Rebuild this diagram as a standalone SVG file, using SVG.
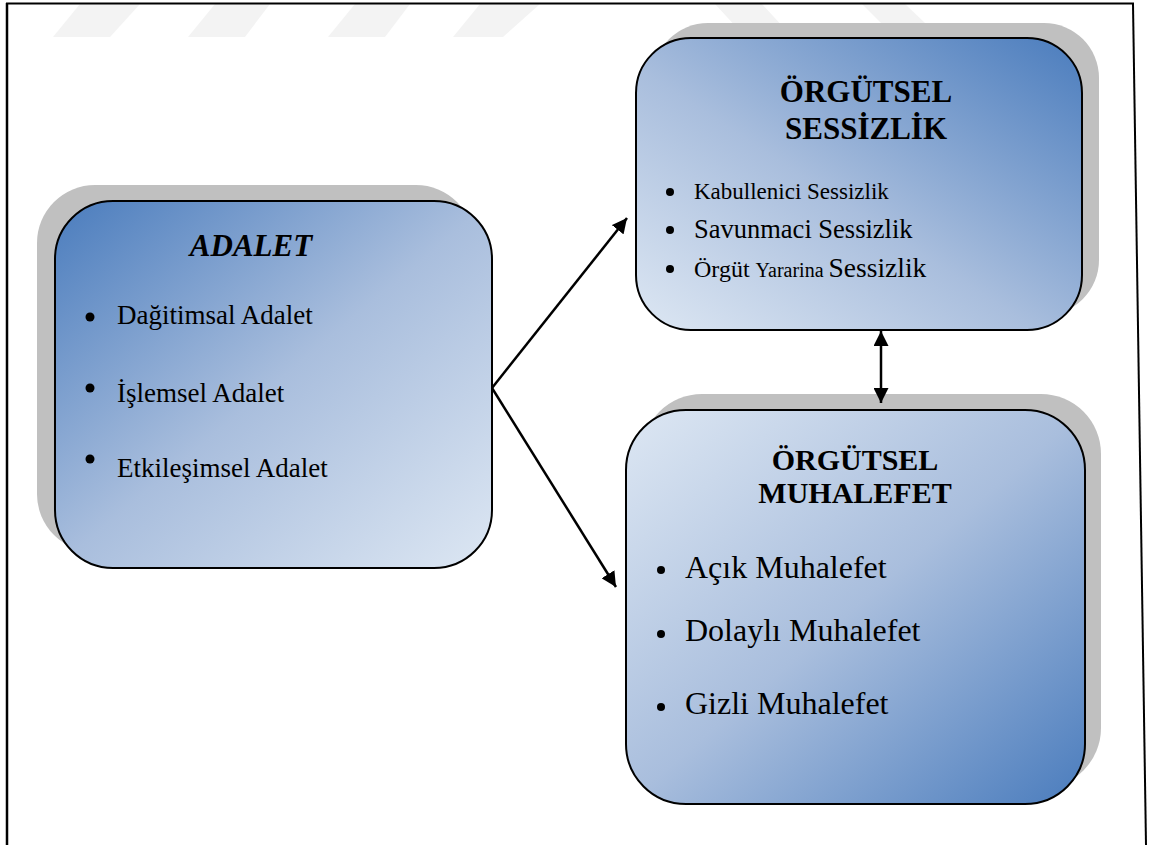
<svg xmlns="http://www.w3.org/2000/svg" width="1149" height="845" viewBox="0 0 1149 845">
<defs>
<linearGradient id="gA" x1="0" y1="0" x2="1" y2="1">
<stop offset="0" stop-color="#4a7cbd"/><stop offset="0.5" stop-color="#a9bedd"/><stop offset="1" stop-color="#dde7f3"/>
</linearGradient>
<linearGradient id="gS" x1="0" y1="1" x2="1" y2="0">
<stop offset="0" stop-color="#dde7f3"/><stop offset="0.45" stop-color="#a9bedd"/><stop offset="1" stop-color="#4a7cbd"/>
</linearGradient>
<linearGradient id="gM" x1="0" y1="0" x2="1" y2="1">
<stop offset="0" stop-color="#dde7f3"/><stop offset="0.5" stop-color="#a9bedd"/><stop offset="1" stop-color="#4a7cbd"/>
</linearGradient>
<marker id="ah" viewBox="0 0 10 10" refX="10" refY="5" markerWidth="6" markerHeight="6" orient="auto-start-reverse" markerUnits="strokeWidth">
<path d="M0,0 L10,5 L0,10 z" fill="#000"/>
</marker>
<style>
.shadow{fill:#c0c0c0}
.box{stroke:#000;stroke-width:2}
.t{font-family:"Liberation Serif","Times New Roman",serif;fill:#000}
.title{font-weight:bold;text-anchor:middle}
.wm{fill:#f3f3f3}
.conn{stroke:#000;stroke-width:2.5;fill:none;marker-end:url(#ah)}
</style>
</defs>
<rect width="1149" height="845" fill="#fff"/>
<g id="watermark">
<polygon class="wm" points="80,4 140,4 110,37 53,37"/>
<polygon class="wm" points="215,4 270,4 245,37 188,37"/>
<polygon class="wm" points="355,4 410,4 385,37 328,37"/>
<polygon class="wm" points="480,4 540,4 503,37 453,37"/>
<polygon class="wm" points="715,4 762,4 797,42 750,42"/>
<polygon class="wm" points="862,4 905,4 945,42 900,42"/>
</g>
<g id="frame" stroke="#000" fill="none">
<line x1="7" y1="3" x2="7" y2="845" stroke-width="2.5"/>
<line x1="6" y1="3.5" x2="1134" y2="3.5" stroke-width="2"/>
<line x1="1133" y1="4" x2="1146" y2="845" stroke-width="2"/>
</g>
<g id="adalet">
<rect class="shadow" x="37" y="185" width="437" height="367" rx="58"/>
<rect class="box" x="55" y="201" width="437" height="367" rx="58" fill="url(#gA)"/>
<text class="t title" x="251" y="256" font-size="31" font-style="italic">ADALET</text>
<circle cx="90" cy="317" r="4.5"/><circle cx="90" cy="388" r="4.5"/><circle cx="90" cy="459" r="4.5"/>
<text class="t" x="117" y="324" font-size="27">Dağitimsal Adalet</text>
<text class="t" x="117" y="402" font-size="27">İşlemsel Adalet</text>
<text class="t" x="117" y="477" font-size="27">Etkileşimsel Adalet</text>
</g>
<g id="sessizlik">
<rect class="shadow" x="653" y="23" width="446" height="292" rx="55"/>
<rect class="box" x="636" y="38" width="446" height="292" rx="55" fill="url(#gS)"/>
<text class="t title" x="866" y="102" font-size="31">ÖRGÜTSEL</text>
<text class="t title" x="866" y="139" font-size="31">SESSİZLİK</text>
<circle cx="670" cy="192" r="4"/><circle cx="670" cy="230" r="4"/><circle cx="670" cy="269" r="4"/>
<text class="t" x="694" y="199" font-size="23">Kabullenici Sessizlik</text>
<text class="t" x="694" y="238" font-size="26.5">Savunmaci Sessizlik</text>
<text class="t" x="694" y="277"><tspan font-size="24">Örgüt </tspan><tspan font-size="20">Yararina </tspan><tspan font-size="27.5">Sessizlik</tspan></text>
</g>
<g id="muhalefet">
<rect class="shadow" x="642" y="394" width="459" height="394" rx="60"/>
<rect class="box" x="626" y="410" width="459" height="394" rx="60" fill="url(#gM)"/>
<text class="t title" x="855" y="470" font-size="30">ÖRGÜTSEL</text>
<text class="t title" x="855" y="503" font-size="30">MUHALEFET</text>
<circle cx="661" cy="570" r="4"/><circle cx="661" cy="634" r="4"/><circle cx="661" cy="707" r="4"/>
<text class="t" x="685" y="578" font-size="32">Açık Muhalefet</text>
<text class="t" x="685" y="641" font-size="32">Dolaylı Muhalefet</text>
<text class="t" x="685" y="714" font-size="32">Gizli Muhalefet</text>
</g>
<g id="connectors">
<line class="conn" x1="492" y1="388" x2="627" y2="218"/>
<line class="conn" x1="492" y1="388" x2="616" y2="587"/>
<line class="conn" x1="881" y1="331" x2="881" y2="403" marker-start="url(#ah)"/>
</g>
</svg>
